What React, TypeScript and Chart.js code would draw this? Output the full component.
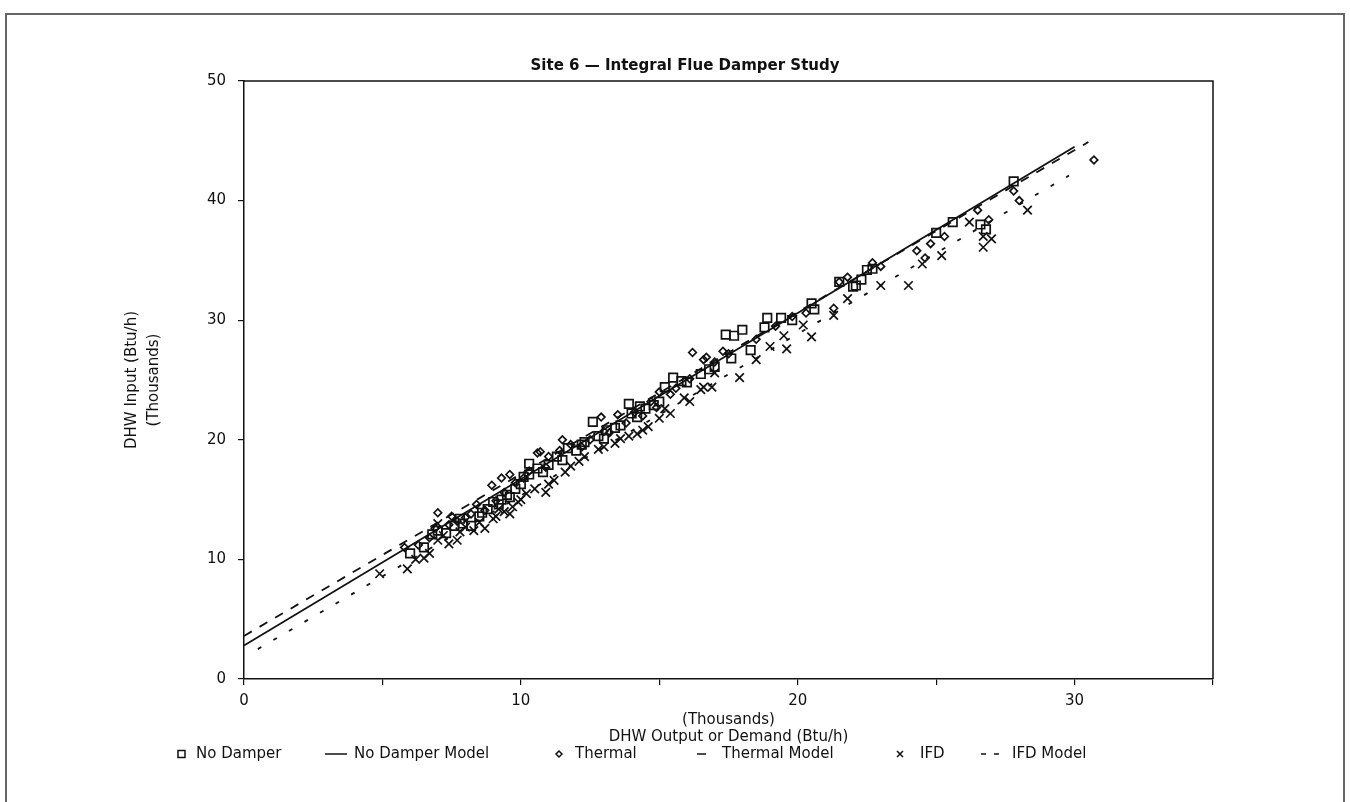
import React, { useEffect, useRef } from 'react';
import { Chart, registerables } from 'chart.js';

Chart.register(...registerables);

const chartTitle = 'Site 6 — Integral Flue Damper Study';
const xAxisTitle = ['(Thousands)', 'DHW Output or Demand (Btu/h)'];
const yAxisTitle = ['DHW Input (Btu/h)', '(Thousands)'];
const xLabelTicks = [0, 10, 20, 30];
const yLabelTicks = [0, 10, 20, 30, 40, 50];
const legendLabels = ['No Damper', 'No Damper Model', 'Thermal', 'Thermal Model', 'IFD', 'IFD Model'];

const noDamper: number[][] = [
  [6.0, 10.5], [6.5, 11.0], [6.8, 12.1], [7.0, 12.4], [7.3, 12.2], [7.6, 12.8], [7.8, 13.4], [7.9, 13.0],
  [8.2, 12.8], [8.5, 13.6], [8.6, 13.9], [8.8, 14.2], [9.0, 14.8], [9.2, 14.6], [9.3, 15.0], [9.5, 15.4],
  [9.6, 15.2], [9.8, 15.9], [10.0, 16.3], [10.1, 16.9], [10.3, 17.1], [10.3, 18.0], [10.6, 17.6],
  [10.8, 17.3], [11.0, 17.9], [11.3, 18.6], [11.5, 18.3], [11.7, 19.3], [12.0, 19.1], [12.2, 19.6],
  [12.3, 19.8], [12.6, 21.5], [12.8, 20.3], [13.0, 20.1], [13.1, 20.8], [13.4, 21.0], [13.6, 21.2],
  [13.9, 23.0], [14.0, 22.2], [14.2, 21.9], [14.3, 22.8], [14.5, 22.6], [14.8, 22.9], [15.0, 23.2],
  [15.2, 24.4], [15.5, 25.2], [15.8, 24.9], [16.0, 24.8], [16.5, 25.5], [16.8, 25.9], [17.0, 26.1],
  [17.4, 28.8], [17.6, 26.8], [17.7, 28.7], [18.0, 29.2], [18.3, 27.5], [18.8, 29.4], [18.9, 30.2],
  [19.4, 30.2], [19.8, 30.0], [20.5, 31.4], [20.6, 30.9], [21.5, 33.2], [22.0, 32.8], [22.1, 32.9],
  [22.3, 33.4], [22.5, 34.2], [22.7, 34.3], [25.0, 37.3], [25.6, 38.2], [26.6, 38.0], [26.8, 37.6],
  [27.8, 41.6]
];

const thermal: number[][] = [
  [5.8, 11.0], [6.3, 11.2], [6.7, 11.8], [6.9, 12.6], [7.0, 13.9], [7.4, 12.9], [7.5, 13.6], [7.7, 13.2],
  [8.0, 13.5], [8.2, 13.8], [8.4, 14.6], [8.7, 14.1], [8.95, 16.2], [9.1, 14.9], [9.3, 16.8], [9.4, 15.6],
  [9.6, 17.1], [9.8, 16.4], [10.1, 16.8], [10.3, 17.4], [10.6, 18.9], [10.7, 19.0], [10.9, 17.7],
  [11.0, 18.6], [11.4, 19.1], [11.5, 20.0], [11.8, 19.6], [12.2, 19.4], [12.5, 20.0], [12.9, 21.9],
  [13.0, 20.7], [13.2, 20.6], [13.5, 22.1], [13.8, 21.4], [14.1, 22.3], [14.4, 22.0], [14.7, 23.2],
  [14.9, 22.7], [15.0, 24.0], [15.4, 23.8], [15.6, 24.3], [16.1, 25.1], [16.2, 27.3], [16.6, 26.7],
  [16.7, 26.9], [17.0, 26.5], [17.3, 27.4], [17.5, 27.2], [18.5, 28.4], [19.2, 29.5], [19.8, 30.3],
  [20.3, 30.6], [21.3, 31.0], [21.5, 33.2], [21.8, 33.6], [22.7, 34.8], [23.0, 34.5], [24.3, 35.8],
  [24.6, 35.2], [24.8, 36.4], [25.3, 37.0], [26.5, 39.2], [26.9, 38.4], [27.8, 40.8], [28.0, 40.0],
  [30.7, 43.4]
];

const ifd: number[][] = [
  [4.9, 8.8], [5.9, 9.2], [6.2, 10.0], [6.5, 10.1], [6.7, 10.5], [7.0, 11.6], [7.0, 13.0], [7.2, 12.0],
  [7.4, 11.3], [7.7, 11.6], [7.8, 12.3], [8.0, 12.7], [8.3, 12.4], [8.5, 13.1], [8.7, 12.6], [9.0, 13.4],
  [9.1, 13.6], [9.2, 14.2], [9.4, 14.0], [9.6, 13.8], [9.7, 14.4], [9.9, 14.8], [10.0, 15.0],
  [10.2, 15.5], [10.5, 15.9], [10.9, 15.6], [11.0, 16.3], [11.2, 16.6], [11.6, 17.3], [11.8, 17.8],
  [12.1, 18.2], [12.3, 18.6], [12.8, 19.2], [13.0, 19.4], [13.4, 19.7], [13.6, 20.1], [13.9, 20.3],
  [14.2, 20.5], [14.4, 20.8], [14.6, 21.1], [15.0, 21.8], [15.2, 22.6], [15.4, 22.2], [15.9, 23.5],
  [16.1, 23.2], [16.5, 24.2], [16.6, 24.4], [16.9, 24.4], [17.0, 25.6], [17.9, 25.2], [18.5, 26.7],
  [19.0, 27.8], [19.5, 28.7], [19.6, 27.6], [20.2, 29.6], [20.5, 28.6], [21.3, 30.4], [21.8, 31.8],
  [23.0, 32.9], [24.0, 32.9], [24.5, 34.7], [25.2, 35.4], [26.2, 38.2], [26.7, 37.0], [26.7, 36.1],
  [27.0, 36.8], [28.3, 39.2]
];

const noDamperModel: number[][] = [[0, 2.8], [30, 44.5]];
const thermalModel: number[][] = [[0, 3.6], [30.5, 44.9]];
const ifdModel: number[][] = [[0.5, 2.5], [29.8, 42.1]];

const FONT = '"DejaVu Sans", sans-serif';
const INK = '#111';

const toXY = (arr: number[][]) => arr.map(([x, y]) => ({ x, y }));

const framePlugin = {
  id: 'frameAndLegend',
  afterDraw(chart: any) {
    const { ctx, chartArea } = chart;
    ctx.save();
    ctx.strokeStyle = INK;
    ctx.lineWidth = 1.5;
    ctx.beginPath();
    ctx.moveTo(chartArea.left, chartArea.top);
    ctx.lineTo(chartArea.right, chartArea.top);
    ctx.lineTo(chartArea.right, chartArea.bottom);
    ctx.stroke();

    ctx.fillStyle = INK;
    ctx.font = `bold 15px ${FONT}`;
    ctx.textAlign = 'center';
    ctx.textBaseline = 'middle';
    ctx.fillText(chartTitle, 685, 66);

    const ly = 754;
    ctx.font = `15px ${FONT}`;
    ctx.textAlign = 'left';
    const textX = [196, 354, 575, 722, 920, 1012];
    legendLabels.forEach((t, i) => ctx.fillText(t, textX[i], ly));
    ctx.lineWidth = 1.5;
    ctx.strokeRect(178, ly - 3.5, 7, 7);
    ctx.beginPath(); ctx.moveTo(325, ly); ctx.lineTo(347, ly); ctx.stroke();
    ctx.beginPath();
    ctx.moveTo(559, ly - 3); ctx.lineTo(562, ly); ctx.lineTo(559, ly + 3); ctx.lineTo(556, ly); ctx.closePath(); ctx.stroke();
    ctx.beginPath(); ctx.moveTo(697, ly); ctx.lineTo(706, ly); ctx.stroke();
    ctx.beginPath();
    ctx.moveTo(897, ly - 3); ctx.lineTo(903, ly + 3); ctx.moveTo(903, ly - 3); ctx.lineTo(897, ly + 3); ctx.stroke();
    ctx.beginPath(); ctx.moveTo(981, ly); ctx.lineTo(986, ly); ctx.moveTo(994, ly); ctx.lineTo(999, ly); ctx.stroke();
    ctx.restore();
  }
};

export default function App() {
  const ref = useRef<HTMLCanvasElement | null>(null);
  useEffect(() => {
    if (!ref.current) return;
    const chart = new Chart(ref.current, {
      type: 'scatter',
      data: {
        datasets: [
          { label: legendLabels[0], data: toXY(noDamper), pointStyle: 'rect', pointRadius: 6, borderColor: INK, backgroundColor: 'rgba(0,0,0,0)', pointBorderWidth: 1.7, showLine: false },
          { label: legendLabels[1], type: 'line', data: toXY(noDamperModel), borderColor: INK, borderWidth: 1.8, pointRadius: 0, fill: false },
          { label: legendLabels[2], data: toXY(thermal), pointStyle: 'rectRot', pointRadius: 3.8, borderColor: INK, backgroundColor: 'rgba(0,0,0,0)', pointBorderWidth: 1.7, showLine: false },
          { label: legendLabels[3], type: 'line', data: toXY(thermalModel), borderColor: INK, borderWidth: 1.8, borderDash: [9, 9], pointRadius: 0, fill: false },
          { label: legendLabels[4], data: toXY(ifd), pointStyle: 'crossRot', pointRadius: 6, borderColor: INK, backgroundColor: 'rgba(0,0,0,0)', pointBorderWidth: 1.7, showLine: false },
          { label: legendLabels[5], type: 'line', data: toXY(ifdModel), borderColor: INK, borderWidth: 1.8, borderDash: [4, 14], pointRadius: 0, fill: false }
        ]
      },
      options: {
        animation: false,
        responsive: false,
        events: [],
        layout: { padding: { left: 121, top: 81, right: 137, bottom: 56 } },
        plugins: { legend: { display: false }, title: { display: false }, tooltip: { enabled: false } },
        scales: {
          x: {
            type: 'linear', min: 0, max: 35,
            afterFit: (s: any) => { s.height = 67; s.paddingLeft = 0; s.paddingRight = 0; },
            ticks: {
              stepSize: 5, color: INK, padding: 7, maxRotation: 0, autoSkip: false,
              font: { family: FONT, size: 15 },
              callback: (v: any) => (xLabelTicks.includes(Number(v)) ? String(v) : '')
            },
            grid: { drawOnChartArea: false, drawTicks: true, tickLength: 6, color: INK, lineWidth: 1.2 },
            border: { display: true, color: INK, width: 1.5 },
            title: { display: true, text: xAxisTitle, color: INK, font: { family: FONT, size: 15, lineHeight: 1.15 }, padding: 0 }
          },
          y: {
            type: 'linear', min: 0, max: 50,
            afterFit: (s: any) => { s.width = 123; s.paddingTop = 0; s.paddingBottom = 0; },
            ticks: {
              stepSize: 10, color: INK, padding: 12,
              font: { family: FONT, size: 15 },
              callback: (v: any) => (yLabelTicks.includes(Number(v)) ? String(v) : '')
            },
            grid: { drawOnChartArea: false, drawTicks: true, tickLength: 6, color: INK, lineWidth: 1.2 },
            border: { display: true, color: INK, width: 1.5 },
            title: { display: true, text: yAxisTitle, color: INK, font: { family: FONT, size: 15, lineHeight: '22px' }, padding: 0 }
          }
        }
      },
      plugins: [framePlugin]
    } as any);
    return () => chart.destroy();
  }, []);

  return (
    <div style={{ position: 'absolute', left: 0, top: 0, width: 1350, height: 802, background: '#fff', overflow: 'hidden' }}>
      <div style={{ position: 'absolute', left: 5, top: 13, width: 1340, height: 800, borderTop: '2px solid #666', borderLeft: '2px solid #666', borderRight: '2px solid #666', boxSizing: 'border-box' }} />
      <canvas ref={ref} width={1350} height={802} style={{ position: 'absolute', left: 0, top: 0, width: 1350, height: 802 }} />
    </div>
  );
}
